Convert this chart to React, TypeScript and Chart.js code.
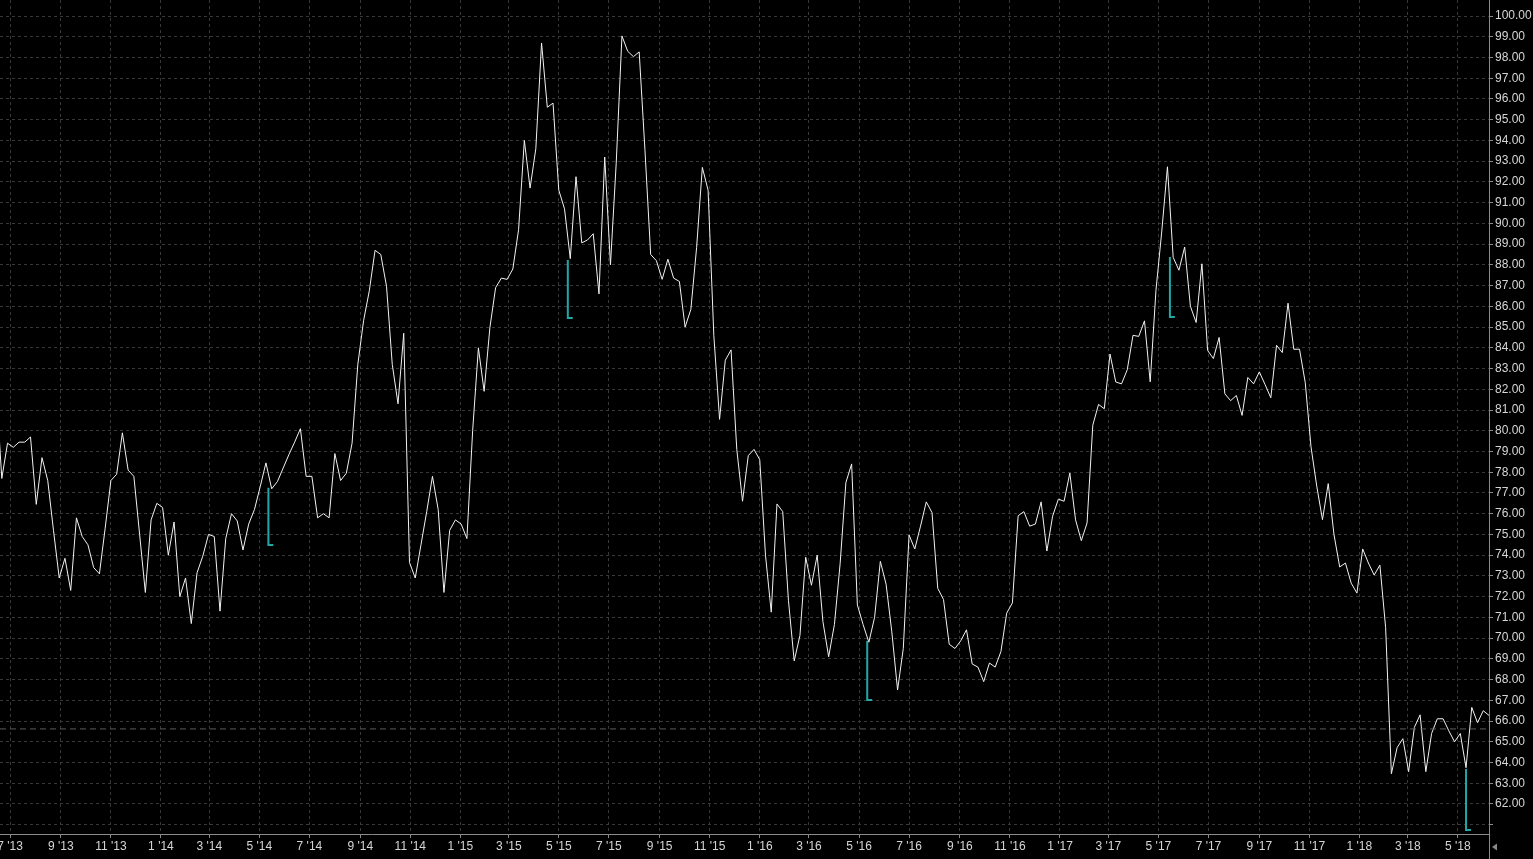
import React, { useEffect, useRef } from 'react';
import { Chart, registerables } from 'chart.js';

Chart.register(...registerables);

// Weekly closes, first value is the week before the visible window
const START_DATE = '2013-06-14';
const VIEW_START = '2013-06-19';
const VIEW_END = '2018-06-08';

const prices: number[] = [
  82.1,
  77.7, 79.4, 79.2, 79.45, 79.45, 79.7, 76.45, 78.7, 77.6, 75.2,
  72.9, 73.85, 72.3, 75.8, 74.9, 74.5, 73.4, 73.1, 75.3, 77.6,
  77.9, 79.9, 78.1, 77.8, 75.0, 72.2, 75.7, 76.5, 76.3, 74.0,
  75.6, 72.0, 72.9, 70.7, 73.15, 73.95, 75.0, 74.9, 71.3, 74.8,
  76.0, 75.65, 74.25, 75.5, 76.2, 77.3, 78.45, 77.2, 77.55, 78.2,
  78.85, 79.45, 80.1, 77.8, 77.8, 75.8, 76.0, 75.8, 78.9, 77.6,
  77.95, 79.4, 83.2, 85.3, 86.75, 88.7, 88.5, 86.97, 83.2, 81.3,
  84.7, 73.65, 72.9, 74.5, 76.1, 77.8, 76.2, 72.2, 75.2, 75.7,
  75.5, 74.8, 80.0, 84.0, 81.9, 84.97, 86.9, 87.36, 87.3, 87.8,
  89.7, 94.0, 91.7, 93.6, 98.7, 95.6, 95.8, 91.6, 90.7, 88.3,
  92.25, 89.06, 89.2, 89.5, 86.6, 93.2, 88.0, 92.9, 99.04, 98.3,
  98.04, 98.27, 93.57, 88.5, 88.2, 87.3, 88.27, 87.36, 87.2, 85.0,
  85.85, 88.83, 92.7, 91.6, 84.6, 80.55, 83.4, 83.9, 79.1, 76.6,
  78.8, 79.1, 78.6, 74.0, 71.25, 76.47, 76.1, 71.8, 68.9, 70.13,
  73.9, 72.55, 74.0, 70.8, 69.1, 70.65, 73.6, 77.5, 78.4, 71.6,
  70.65, 69.8, 71.0, 73.7, 72.6, 70.3, 67.5, 69.5, 74.97, 74.3,
  75.4, 76.57, 76.05, 72.4, 71.86, 69.7, 69.5, 69.87, 70.4, 68.75,
  68.6, 67.9, 68.8, 68.6, 69.35, 71.2, 71.7, 75.9, 76.1, 75.4,
  75.5, 76.57, 74.2, 75.88, 76.7, 76.6, 77.96, 75.7, 74.7, 75.55,
  80.27, 81.27, 81.06, 83.7, 82.35, 82.26, 82.94, 84.6, 84.55, 85.3,
  82.36, 86.77, 89.58, 92.73, 88.36, 87.74, 88.86, 86.0, 85.22, 88.05,
  83.87, 83.48, 84.5, 81.78, 81.45, 81.7, 80.74, 82.57, 82.26, 82.84,
  82.23, 81.59, 84.12, 83.77, 86.15, 83.93, 83.93, 82.32, 79.23, 77.33,
  75.71, 77.45, 75.0, 73.43, 73.62, 72.65, 72.17, 74.3, 73.62, 73.04,
  73.52, 70.5, 63.46, 64.72, 65.15, 63.56, 65.69, 66.3, 63.56, 65.4,
  66.11, 66.11, 65.53, 65.0, 65.4, 63.75, 66.66, 65.92, 66.5, 66.27,
];

const xTickDates: string[] = [
  '2013-07-01', '2013-09-01', '2013-11-01', '2014-01-01', '2014-03-01', '2014-05-01',
  '2014-07-01', '2014-09-01', '2014-11-01', '2015-01-01', '2015-03-01', '2015-05-01',
  '2015-07-01', '2015-09-01', '2015-11-01', '2016-01-01', '2016-03-01', '2016-05-01',
  '2016-07-01', '2016-09-01', '2016-11-01', '2017-01-01', '2017-03-01', '2017-05-01',
  '2017-07-01', '2017-09-01', '2017-11-01', '2018-01-01', '2018-03-01', '2018-05-01',
];
const xTickLabels: string[] = [
  "7 '13", "9 '13", "11 '13", "1 '14", "3 '14", "5 '14",
  "7 '14", "9 '14", "11 '14", "1 '15", "3 '15", "5 '15",
  "7 '15", "9 '15", "11 '15", "1 '16", "3 '16", "5 '16",
  "7 '16", "9 '16", "11 '16", "1 '17", "3 '17", "5 '17",
  "7 '17", "9 '17", "11 '17", "1 '18", "3 '18", "5 '18",
];

const yTickValues: number[] = [
  61, 62, 63, 64, 65, 66, 67, 68, 69, 70, 71, 72, 73, 74, 75, 76, 77, 78, 79, 80,
  81, 82, 83, 84, 85, 86, 87, 88, 89, 90, 91, 92, 93, 94, 95, 96, 97, 98, 99, 100,
];
const Y_MIN = 60.553;
const Y_MAX = 100.772;

const markerDates: string[] = ['2014-05-12', '2015-05-12', '2016-05-11', '2017-05-15', '2018-05-11'];
const markerTops: number[] = [77.25, 88.23, 69.86, 88.38, 63.69];
const markerBottoms: number[] = [74.49, 85.44, 67.02, 85.49, 60.75];

const refLevel = 65.62;

const DAY = 86400000;
const dayOf = (s: string) => (Date.parse(s) - Date.parse(START_DATE)) / DAY;

const FONT = { family: "'Liberation Sans', Arial, Helvetica, sans-serif", size: 12 };
const TEXT_COLOR = '#d6d6d6';
const AXIS_COLOR = '#8a8a8a';
const GRID_COLOR = '#383838';
const CYAN = '#22a7a7';

export default function App() {
  const ref = useRef<HTMLCanvasElement | null>(null);

  useEffect(() => {
    document.body.style.margin = '0';
    document.body.style.background = '#000';
    const canvas = ref.current;
    if (!canvas) return;

    const xMin = dayOf(VIEW_START) - 0.2;
    const xMax = dayOf(VIEW_END);
    const xTickDays = xTickDates.map(dayOf);

    const lineData = prices.map((v, i) => ({ x: i * 7, y: v }));

    const markerSets = markerDates.map((d, k) => {
      const x = dayOf(d);
      return {
        data: [
          { x, y: markerTops[k] },
          { x, y: markerBottoms[k] },
          { x: x + 6, y: markerBottoms[k] },
        ],
        borderColor: CYAN,
        borderWidth: 2,
        pointRadius: 0,
        tension: 0,
        fill: false,
        borderCapStyle: 'butt' as const,
        borderJoinStyle: 'miter' as const,
      };
    });

    const bgPlugin = {
      id: 'bg',
      beforeDraw(c: any) {
        const ctx = c.ctx;
        ctx.save();
        ctx.fillStyle = '#000';
        ctx.fillRect(0, 0, c.width, c.height);
        ctx.restore();
      },
      afterDraw(c: any) {
        const ctx = c.ctx;
        const a = c.chartArea;
        ctx.save();
        ctx.strokeStyle = AXIS_COLOR;
        ctx.lineWidth = 1;
        ctx.beginPath();
        ctx.moveTo(Math.round(a.right) + 0.5, a.bottom);
        ctx.lineTo(Math.round(a.right) + 0.5, c.height);
        ctx.stroke();
        ctx.fillStyle = '#8a8a8a';
        ctx.beginPath();
        const cx = a.right + 3;
        const cy = a.bottom + 13;
        ctx.moveTo(cx, cy);
        ctx.lineTo(cx + 5, cy - 3.5);
        ctx.lineTo(cx + 5, cy + 3.5);
        ctx.closePath();
        ctx.fill();
        ctx.restore();
      },
    };

    const chart = new Chart(canvas, {
      type: 'line',
      data: {
        datasets: [
          {
            data: [{ x: xMin, y: refLevel }, { x: xMax, y: refLevel }],
            borderColor: '#5c5c5c',
            borderWidth: 1,
            borderDash: [6, 4],
            pointRadius: 0,
          },
          ...markerSets,
          {
            data: lineData,
            borderColor: '#f2f2f2',
            borderWidth: 1,
            pointRadius: 0,
            tension: 0,
            fill: false,
          },
        ] as any,
      },
      options: {
        animation: false,
        responsive: false,
        maintainAspectRatio: false,
        events: [],
        layout: { padding: 0, autoPadding: false } as any,
        plugins: {
          legend: { display: false },
          tooltip: { enabled: false },
        },
        scales: {
          x: {
            type: 'linear',
            position: 'bottom',
            min: xMin,
            max: xMax,
            afterBuildTicks: (s: any) => {
              s.ticks = xTickDays.map((v) => ({ value: v }));
            },
            afterFit: (s: any) => {
              s.height = 25;
              s.paddingLeft = 0;
              s.paddingRight = 0;
            },
            ticks: {
              autoSkip: false,
              maxRotation: 0,
              minRotation: 0,
              color: TEXT_COLOR,
              font: FONT,
              padding: 1,
              callback: (_v: any, i: number) => xTickLabels[i],
            },
            grid: {
              color: GRID_COLOR,
              lineWidth: 1,
              tickLength: 4,
              tickColor: AXIS_COLOR,
            },
            border: { display: true, color: AXIS_COLOR, dash: [3, 3] },
          },
          y: {
            type: 'linear',
            position: 'right',
            min: Y_MIN,
            max: Y_MAX,
            afterBuildTicks: (s: any) => {
              s.ticks = yTickValues.map((v) => ({ value: v }));
            },
            afterFit: (s: any) => {
              s.width = 44;
              s.paddingTop = 0;
              s.paddingBottom = 0;
            },
            ticks: {
              color: TEXT_COLOR,
              font: FONT,
              padding: 2,
              callback: (v: any) => (Number(v) === yTickValues[0] ? '' : Number(v).toFixed(2)),
            },
            grid: {
              color: GRID_COLOR,
              lineWidth: 1,
              tickLength: 4,
              tickColor: AXIS_COLOR,
            },
            border: { display: true, color: AXIS_COLOR, dash: [3, 3] },
          },
        },
      } as any,
      plugins: [bgPlugin],
    });

    return () => chart.destroy();
  }, []);

  return (
    <div style={{ width: 1533, height: 859, background: '#000' }}>
      <canvas ref={ref} width={1533} height={859} style={{ display: 'block' }} />
    </div>
  );
}
